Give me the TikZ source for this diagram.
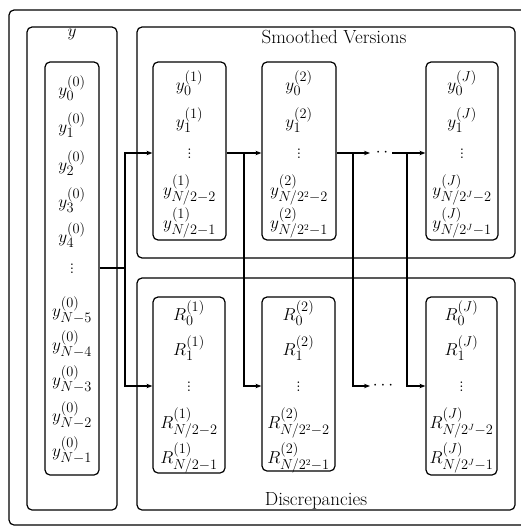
\documentclass[tikz,border=0pt]{standalone}
\usetikzlibrary{arrows.meta}
\newcommand\myvdots{\smash{\vdots}}
\begin{document}
\begin{tikzpicture}[x=1pt,y=-1pt,
  frame/.style={draw, line width=1.2pt, rounded corners=5pt, inner sep=0pt},
  ent/.style={inner sep=0pt, font=\fontsize{19}{22}\selectfont},
  vd/.style={inner sep=0pt, font=\fontsize{19}{22}\selectfont, yshift=-5pt},
  lab/.style={inner sep=0pt, font=\fontsize{19}{22}\selectfont},
  conn/.style={line width=1.2pt},
  arr/.style={line width=1.2pt, -{Stealth[length=6pt,width=4.5pt]}}]
\useasboundingbox (0,0) rectangle (521,527);
% outer frame (its right side lies beyond the picture)
\draw[line width=1.2pt, rounded corners=5pt] (530,10) -- (9,10) -- (9,525) -- (530,525);
\node[frame, minimum width=90, minimum height=483] (yb) at (72,268.5) {};
\node[frame, minimum width=54, minimum height=413] (yc) at (72,268.5) {};
\node[frame, minimum width=378, minimum height=231] (sm) at (326,142.5) {};
\node[frame, minimum width=378, minimum height=232] (ds) at (326,394) {};
\node[frame, minimum width=73, minimum height=178] (c1t) at (189.5,151) {};
\node[frame, minimum width=74, minimum height=178] (c2t) at (299,151) {};
\node[frame, minimum width=72, minimum height=178] (cJt) at (462,151) {};
\node[frame, minimum width=72, minimum height=176] (c1b) at (189,385) {};
\node[frame, minimum width=73, minimum height=174] (c2b) at (298.5,384) {};
\node[frame, minimum width=71, minimum height=178] (cJb) at (461.5,386) {};
% labels
\node[ent] (ylab) at (72,34) {$y$};
\node[lab] (smlab) at (334,37) {Smoothed Versions};
\node[lab] (dslab) at (316,501) {Discrepancies};
% y column
\node[ent] (y0) at (72,88) {$y_0^{(0)}$};
\node[ent] (y1) at (72,125) {$y_1^{(0)}$};
\node[ent] (y2) at (72,163) {$y_2^{(0)}$};
\node[ent] (y3) at (72,200) {$y_3^{(0)}$};
\node[ent] (y4) at (72,235) {$y_4^{(0)}$};
\node[vd] (yv) at (72,268) {$\myvdots$};
\node[ent] (yn5) at (72,310) {$y_{N-5}^{(0)}$};
\node[ent] (yn4) at (72,344) {$y_{N-4}^{(0)}$};
\node[ent] (yn3) at (72,379) {$y_{N-3}^{(0)}$};
\node[ent] (yn2) at (72,415) {$y_{N-2}^{(0)}$};
\node[ent] (yn1) at (72,450) {$y_{N-1}^{(0)}$};
% smoothed column 1
\node[ent] (a0) at (189.5,83) {$y_0^{(1)}$};
\node[ent] (a1) at (189.5,120) {$y_1^{(1)}$};
\node[vd] (av) at (189.5,153) {$\myvdots$};
\node[ent] (a2) at (189.5,190) {$y_{N/2-2}^{(1)}$};
\node[ent] (a3) at (189.5,223) {$y_{N/2-1}^{(1)}$};
% smoothed column 2
\node[ent] (b0) at (299,83) {$y_0^{(2)}$};
\node[ent] (b1) at (299,120) {$y_1^{(2)}$};
\node[vd] (bv) at (299,153) {$\myvdots$};
\node[ent] (b2) at (299,190) {$y_{N/2^2-2}^{(2)}$};
\node[ent] (b3) at (299,223) {$y_{N/2^2-1}^{(2)}$};
% smoothed column J
\node[ent] (j0) at (462,83) {$y_0^{(J)}$};
\node[ent] (j1) at (462,120) {$y_1^{(J)}$};
\node[vd] (jv) at (462,153) {$\myvdots$};
\node[ent] (j2) at (462,190) {$y_{N/2^J-2}^{(J)}$};
\node[ent] (j3) at (462,223) {$y_{N/2^J-1}^{(J)}$};
% discrepancy column 1
\node[ent] (r0) at (189,313) {$R_0^{(1)}$};
\node[ent] (r1) at (189,348) {$R_1^{(1)}$};
\node[vd] (rv) at (189,386) {$\myvdots$};
\node[ent] (r2) at (189,423) {$R_{N/2-2}^{(1)}$};
\node[ent] (r3) at (189,458) {$R_{N/2-1}^{(1)}$};
% discrepancy column 2
\node[ent] (s0n) at (298.5,313) {$R_0^{(2)}$};
\node[ent] (s1n) at (298.5,348) {$R_1^{(2)}$};
\node[vd] (svn) at (298.5,386) {$\myvdots$};
\node[ent] (s2n) at (298.5,423) {$R_{N/2^2-2}^{(2)}$};
\node[ent] (s3n) at (298.5,458) {$R_{N/2^2-1}^{(2)}$};
% discrepancy column J
\node[ent] (t0) at (461.5,313) {$R_0^{(J)}$};
\node[ent] (t1) at (461.5,348) {$R_1^{(J)}$};
\node[vd] (tv) at (461.5,386) {$\myvdots$};
\node[ent] (t2) at (461.5,423) {$R_{N/2^J-2}^{(J)}$};
\node[ent] (t3) at (461.5,458) {$R_{N/2^J-1}^{(J)}$};
% connectors
\coordinate (sp) at (125,268);
\coordinate (rt) at (125,153);
\coordinate (rb) at (125,386);
\draw[conn] (yc.east |- sp) -- (sp);
\draw[arr] (sp) |- (c1t.west |- rt);
\draw[arr] (sp) |- (c1b.west |- rb);
\coordinate (k1) at (244,153);
\coordinate (k1b) at (244,386);
\draw[arr] (c1t.east |- k1) -- (c2t.west |- k1);
\draw[arr] (k1) -- (k1b) -- (c2b.west |- k1b);
\coordinate (k2) at (353,153);
\coordinate (k2b) at (353,386);
\coordinate (d1) at (370,153);
\coordinate (e1) at (370,386);
\draw[arr] (c2t.east |- k2) -- (d1);
\node[ent] (dt) at (382,153) {$\cdot\,\cdot$};
\draw[arr] (k2) -- (k2b) -- (e1);
\node[ent] (db) at (383,386) {$\cdots$};
\coordinate (d2) at (392,153);
\coordinate (k3) at (407,153);
\coordinate (k3b) at (407,386);
\draw[arr] (d2) -- (cJt.west |- d2);
\draw[arr] (k3) -- (k3b) -- (cJb.west |- k3b);
\end{tikzpicture}
\end{document}
